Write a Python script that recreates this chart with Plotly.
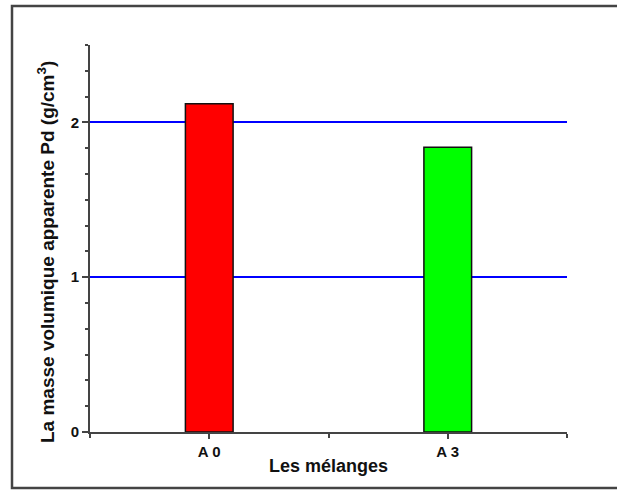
import plotly.graph_objects as go

# Mixtures and their apparent bulk density (g/cm3)
melanges = ["A 0", "A 3"]
densite = [2.12, 1.84]
couleurs = ["#ff0000", "#00ff00"]
y_ticks = [0, 1, 2]

W, H = 617, 492
L, R, T, B = 90, 50, 45, 60
pw, ph = W - L - R, H - T - B

pos = list(range(len(melanges)))

fig = go.Figure(go.Bar(
    x=pos, y=densite, width=0.2,
    marker=dict(color=couleurs, line=dict(color="#111111", width=1.5)),
))

font = "Arial, Liberation Sans, sans-serif"
axis_col = "#444444"
txt_col = "#111111"

fig.update_xaxes(
    range=[-0.5, 1.5], tickmode="array", tickvals=pos,
    ticktext=["<b>%s</b>" % m for m in melanges],
    ticks="outside", ticklen=5, tickwidth=1.5, tickcolor=axis_col,
    minor=dict(tick0=0, dtick=0.5, ticks="outside", ticklen=4, tickwidth=1.5,
               tickcolor=axis_col, showgrid=False),
    showline=True, linecolor=axis_col, linewidth=2, showgrid=False, zeroline=False,
    tickfont=dict(family=font, size=15, color=txt_col),
)
fig.update_yaxes(
    range=[0, 2.5], tickmode="array", tickvals=y_ticks,
    ticktext=["<b>%d</b>" % v for v in y_ticks],
    ticks="outside", ticklen=6, tickwidth=1.5, tickcolor=axis_col,
    showline=True, linecolor=axis_col, linewidth=2,
    showgrid=True, gridcolor="#0000ff", gridwidth=2, zeroline=False,
    minor=dict(tick0=0, dtick=1/6, ticks="outside", ticklen=3, tickwidth=1.5,
               tickcolor=axis_col, showgrid=False),
    tickfont=dict(family=font, size=15, color=txt_col),
)

def px_x(v):
    return (v - L) / pw

def px_y(v):
    return (H - B - v) / ph

# axis titles
fig.add_annotation(text="<b>Les mélanges</b>", xref="paper", yref="paper",
                   x=px_x(328), y=px_y(466), showarrow=False,
                   xanchor="center", yanchor="middle",
                   font=dict(family=font, size=18, color=txt_col))
fig.add_annotation(text="<b>La masse volumique apparente Pd (g/cm<sup>3</sup>)</b>",
                   xref="paper", yref="paper", x=px_x(46), y=px_y(252),
                   textangle=-90, showarrow=False,
                   xanchor="center", yanchor="middle",
                   font=dict(family=font, size=19, color=txt_col))

# outer frame around the whole chart
fig.add_shape(type="rect", xref="paper", yref="paper",
              x0=px_x(12), x1=px_x(660), y0=px_y(488), y1=px_y(6),
              line=dict(color="#444444", width=2.5), layer="below")

fig.update_layout(
    width=W, height=H, margin=dict(l=L, r=R, t=T, b=B),
    paper_bgcolor="white", plot_bgcolor="white", showlegend=False,
)

fig.write_html("out.html")
